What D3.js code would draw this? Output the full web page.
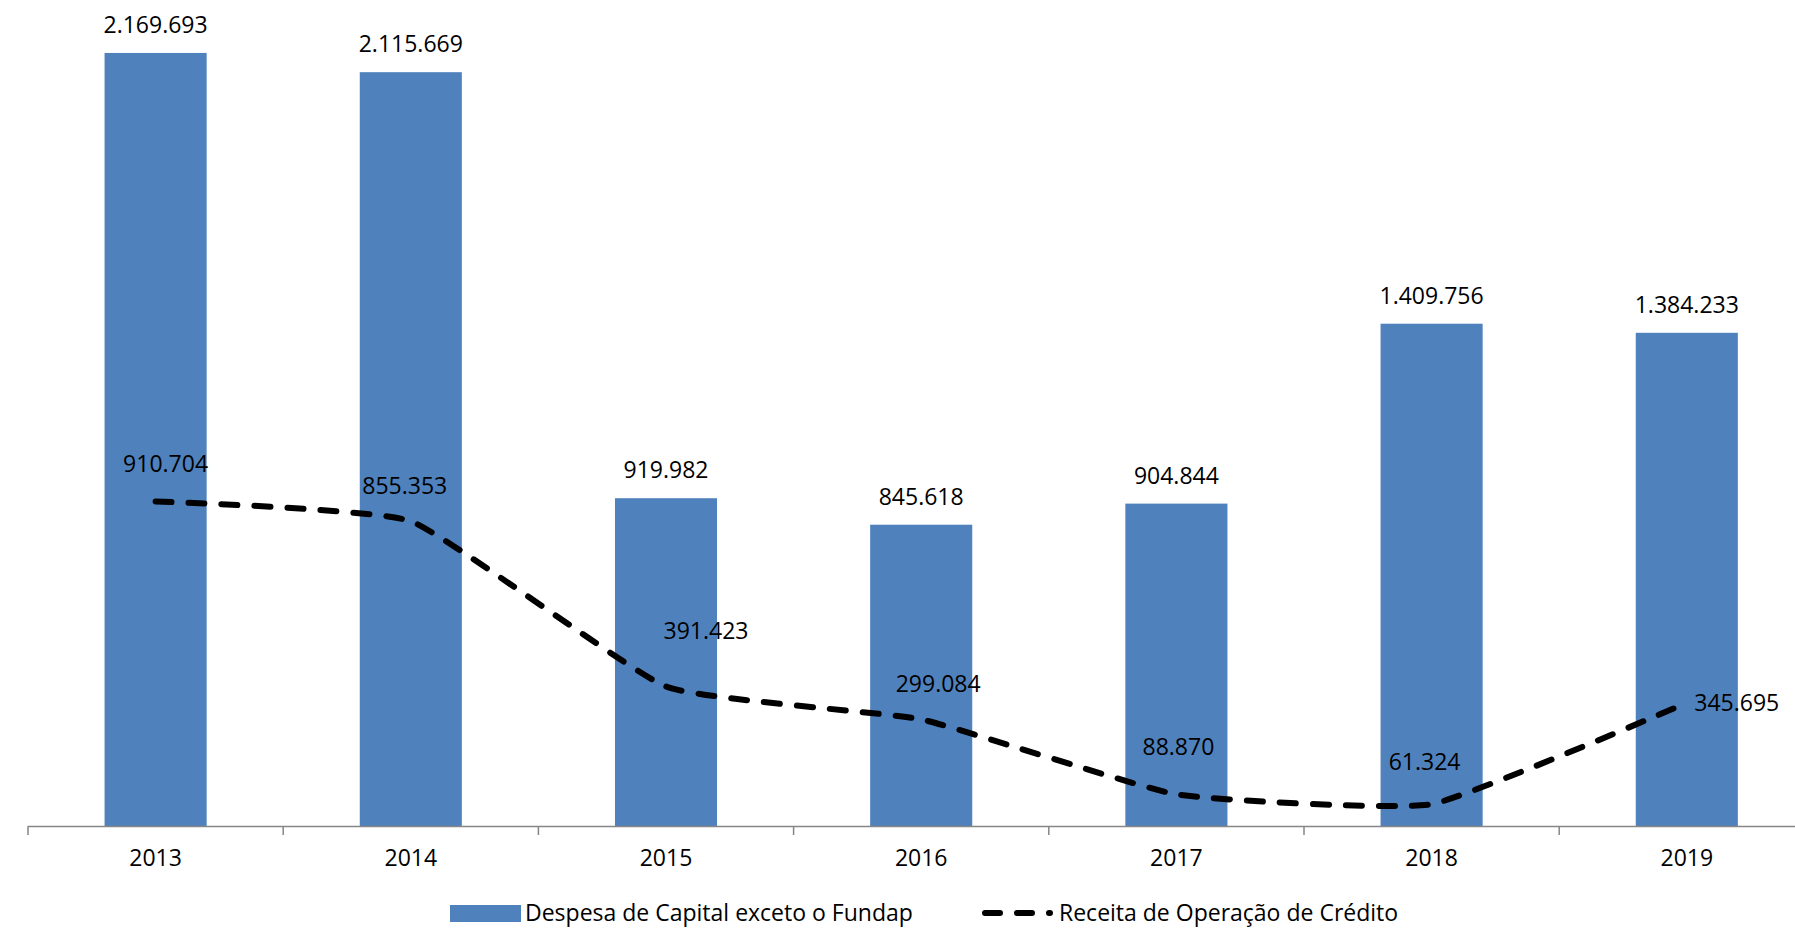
<!DOCTYPE html>
<html>
<head>
<meta charset="utf-8">
<script src="https://cdn.jsdelivr.net/npm/d3@7"></script>
<style>
  body { margin: 0; background: #fff; }
  svg { display: block; font-family: "Open Sans", sans-serif; }
</style>
</head>
<body>
<svg id="chart"></svg>
<script>
// data
const years = ["2013", "2014", "2015", "2016", "2017", "2018", "2019"];
const despesaCapital = [2169693, 2115669, 919982, 845618, 904844, 1409756, 1384233];
const receitaCredito = [910704, 855353, 391423, 299084, 88870, 61324, 345695];
const seriesNames = ["Despesa de Capital exceto o Fundap", "Receita de Operação de Crédito"];

// nudges of the line labels (dx, dy from the point), as placed in the original
const lineLabelNudge = [[10, -38], [-6, -35], [40, -56], [17, -35], [2, -47], [-7, -42], [50, 0]];

const width = 1795, height = 928;
const config = {
  left: 28,
  bandWidth: 255.2,
  baseline: 826,
  barColor: "#4F81BD",
  axisColor: "#868686",
  fontSize: 23
};

const svg = d3.select("#chart")
  .attr("width", width)
  .attr("height", height);

const fmt = v => d3.format(",")(v).replace(/,/g, ".");

const x = d3.scaleBand()
  .domain(years)
  .range([config.left, config.left + config.bandWidth * years.length])
  .paddingInner(0.6)
  .paddingOuter(0.3);

// whole-band scale, for ticks and line points
const xBand = d3.scaleBand()
  .domain(years)
  .range(x.range());

const y = d3.scaleLinear()
  .domain([0, 2200000])
  .range([config.baseline, config.baseline - 2200000 * 0.0003563]);

// bars
svg.append("g").selectAll("rect")
  .data(despesaCapital)
  .join("rect")
  .attr("x", (d, i) => x(years[i]))
  .attr("y", d => y(d))
  .attr("width", x.bandwidth())
  .attr("height", d => y(0) - y(d))
  .attr("fill", config.barColor);

// x axis
const xAxis = d3.axisBottom(xBand).tickSize(0).tickPadding(24);
const axisG = svg.append("g")
  .attr("transform", `translate(0,${config.baseline})`)
  .call(xAxis);
axisG.select(".domain").remove();
axisG.selectAll("text")
  .attr("font-size", config.fontSize)
  .attr("font-family", "Open Sans")
  .attr("fill", "#000");

svg.append("line")
  .attr("x1", config.left)
  .attr("x2", width)
  .attr("y1", config.baseline + 0.5)
  .attr("y2", config.baseline + 0.5)
  .attr("stroke", config.axisColor)
  .attr("stroke-width", 1.5);

svg.append("g").selectAll("line")
  .data(d3.range(years.length + 1))
  .join("line")
  .attr("x1", i => config.left + i * xBand.bandwidth())
  .attr("x2", i => config.left + i * xBand.bandwidth())
  .attr("y1", config.baseline)
  .attr("y2", config.baseline + 9)
  .attr("stroke", config.axisColor)
  .attr("stroke-width", 1.5);

// bar labels
svg.append("g").selectAll("text")
  .data(despesaCapital)
  .join("text")
  .attr("x", (d, i) => x(years[i]) + x.bandwidth() / 2)
  .attr("y", d => y(d) - 20)
  .attr("text-anchor", "middle")
  .attr("font-size", config.fontSize)
  .text(d => fmt(d));

// credit line, smoothed but tight like the original
const cx = i => xBand(years[i]) + xBand.bandwidth() / 2;
const line = d3.line()
  .x((d, i) => cx(i))
  .y(d => y(d))
  .curve(d3.curveCardinal.tension(0.6));

svg.append("path")
  .datum(receitaCredito)
  .attr("d", line)
  .attr("fill", "none")
  .attr("stroke", "#000")
  .attr("stroke-width", 6)
  .attr("stroke-linecap", "round")
  .attr("stroke-dasharray", "16 17");

svg.append("g").selectAll("text")
  .data(receitaCredito)
  .join("text")
  .attr("x", (d, i) => cx(i) + lineLabelNudge[i][0])
  .attr("y", (d, i) => y(d) + lineLabelNudge[i][1])
  .attr("dy", "0.35em")
  .attr("text-anchor", "middle")
  .attr("font-size", config.fontSize)
  .text(d => fmt(d));

// legend
const legend = svg.append("g").attr("transform", "translate(0,913)");
legend.append("rect")
  .attr("x", 450).attr("y", -8)
  .attr("width", 71).attr("height", 17)
  .attr("fill", config.barColor);
legend.append("text")
  .attr("x", 525).attr("dy", "0.35em")
  .attr("font-size", config.fontSize)
  .text(seriesNames[0]);
legend.append("line")
  .attr("x1", 985).attr("x2", 1050)
  .attr("stroke", "#000")
  .attr("stroke-width", 6)
  .attr("stroke-linecap", "round")
  .attr("stroke-dasharray", "15 17");
legend.append("text")
  .attr("x", 1059).attr("dy", "0.35em")
  .attr("font-size", config.fontSize)
  .text(seriesNames[1]);
</script>
</body>
</html>
